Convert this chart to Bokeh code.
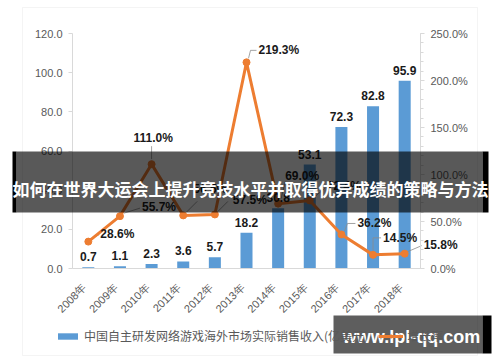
import math
from bokeh.plotting import figure
from bokeh.models import (ColumnDataSource, Range1d, LinearAxis, FixedTicker, PrintfTickFormatter,
                          CustomJSTickFormatter, Legend, LegendItem, BoxAnnotation, Label)
from bokeh.embed import file_html
from bokeh.resources import INLINE
from bokeh.core.properties import value

# ---------------- data ----------------
years = ["2008年", "2009年", "2010年", "2011年", "2012年", "2013年",
         "2014年", "2015年", "2016年", "2017年", "2018年"]
revenue = [0.7, 1.1, 2.3, 3.6, 5.7, 18.2, 30.8, 53.1, 72.3, 82.8, 95.9]
growth = [28.6, 55.7, 111.0, 56.5, 57.5, 219.3, 69.0, 72.4, 36.2, 14.5, 15.8]
left_ticks = [0, 20, 40, 60, 80, 100, 120]
right_ticks = [0, 50, 100, 150, 200, 250]
bar_name = "中国自主研发网络游戏海外市场实际销售收入(亿美元)"
line_name = "增长率"
banner_text = "如何在世界大运会上提升竞技水平并取得优异成绩的策略与方法"
watermark_text = "www.lpl-qq.com"

# ---------------- style / layout ----------------
BLUE = "#5B9BD5"
ORANGE = "#ED7D31"
AXIS = "#d9d9d9"
TICKTXT = "#595959"
W, H = 496, 360
FL, FR, FT, FB = 72, 420, 33, 268          # data area inside the canvas (px)
NX = len(years)
YMAX, PMAX = left_ticks[-1], right_ticks[-1]
px_x = (FR - FL) / NX
px_l = (FB - FT) / YMAX
px_p = (FB - FT) / PMAX

# growth label offsets (pixels, left-aligned text)
lab_dx = [12, 22, -18, 10, 18, 12, 7, 17, 16, 10, 19]
lab_dy = [-8, -9, -26, -26, -14, -12, -28, -14, -11, -17, -9]
leader_offsets = [
    [(3, -3), (11, -7)],
    [(4, -3), (20, -8)],
    [(0, -5), (0, -18)],
    [(3, -3), (14, -14)],
    [(3, -3), (13, -13)],
    [(2, -4), (4, -12), (10, -12)],
    [(3, -5), (7, -22)],
    [(4, -3), (15, -12)],
    [(3, -3), (6, -11), (14, -11)],
    [(0, -3), (0, -17), (8, -17)],
    [(3, -2), (17, -8)],
]
XLAB_SHIFT = -4  # px, nudges the rotated year labels

xc = [i + 0.5 for i in range(NX)]

p = figure(width=W, height=H,
           x_range=Range1d(-FL / px_x, NX + (W - FR) / px_x),
           y_range=Range1d(-(H - FB) / px_l, YMAX + FT / px_l),
           x_axis_type=None, y_axis_type=None, output_backend="svg", toolbar_location=None,
           min_border=0, min_border_left=0, min_border_right=0, min_border_top=0,
           min_border_bottom=0)
p.extra_y_ranges = {"pct": Range1d(-(H - FB) / px_p, PMAX + FT / px_p)}
p.outline_line_color = None
p.background_fill_color = "white"
p.border_fill_color = "white"

# axes (fixed in data space, bounded to the chart area)
yl = LinearAxis(ticker=FixedTicker(ticks=left_ticks), formatter=PrintfTickFormatter(format="%.1f"),
                fixed_location=0, bounds=(0, YMAX))
yr = LinearAxis(y_range_name="pct",
                ticker=FixedTicker(ticks=right_ticks, minor_ticks=list(range(0, PMAX + 1, 10))),
                formatter=PrintfTickFormatter(format="%.1f%%"), fixed_location=NX,
                bounds=(0, PMAX))
xb = LinearAxis(ticker=FixedTicker(ticks=[x + XLAB_SHIFT / px_x for x in xc]),
                fixed_location=0, bounds=(0, NX),
                formatter=CustomJSTickFormatter(args=dict(labels=years),
                                                code="return labels[Math.floor(tick)] || '';"))
for ax in (yl, yr, xb):
    ax.axis_line_color = AXIS
    ax.major_tick_line_color = AXIS
    ax.minor_tick_line_color = None
    ax.major_tick_in = 0
    ax.major_tick_out = 4
    ax.major_label_text_font = "Liberation Sans"
    ax.major_label_text_font_size = "11px"
    ax.major_label_text_color = TICKTXT
yl.major_label_standoff = 6
yr.minor_tick_line_color = AXIS
yr.minor_tick_out = 3
yr.minor_tick_in = 0
yr.major_label_standoff = 6
xb.major_tick_line_color = None
xb.major_tick_out = 0
xb.major_label_orientation = math.pi / 4
xb.major_label_standoff = 17
p.add_layout(yl, "left")
p.add_layout(yr, "right")
p.add_layout(xb, "below")

# bars
src = ColumnDataSource(dict(x=xc, rev=revenue, g=growth, year=years,
                            rev_txt=["%.1f" % v for v in revenue],
                            g_txt=["%.1f%%" % v for v in growth],
                            dx=lab_dx, dy=lab_dy))
bars = p.vbar(x="x", top="rev", width=0.38, source=src, color=BLUE, line_color=None)

# leader lines
lx = [[xc[i] + dx / px_x for dx, dy in segs] for i, segs in enumerate(leader_offsets)]
ly = [[growth[i] - dy / px_p for dx, dy in segs] for i, segs in enumerate(leader_offsets)]
p.multi_line(xs=lx, ys=ly, y_range_name="pct", line_color="#8c8c8c", line_width=0.8)

# growth line
gl = p.line(x="x", y="g", source=src, y_range_name="pct", line_color=ORANGE, line_width=3,
            line_join="round")
gc = p.scatter(x="x", y="g", source=src, y_range_name="pct", size=7, fill_color=ORANGE,
               line_color=ORANGE)

# labels
p.text(x="x", y="rev", text="rev_txt", source=src, text_align="center", text_baseline="bottom",
       y_offset=-6, text_font=value("Liberation Sans"), text_font_style="bold",
       text_font_size="12px", text_color="#1a1a1a")
p.text(x="x", y="g", text="g_txt", source=src, y_range_name="pct", text_align="left",
       text_baseline="middle", x_offset="dx", y_offset="dy", text_font=value("Liberation Sans"),
       text_font_style="bold", text_font_size="12px", text_color="#1a1a1a")

# legend
legend = Legend(items=[LegendItem(label=bar_name, renderers=[bars]),
                       LegendItem(label=line_name, renderers=[gl, gc])],
                location=(55, H - 344), orientation="horizontal")
legend.glyph_width = 25
legend.glyph_height = 8
legend.label_height = 14
legend.label_standoff = 4
legend.spacing = 10
legend.padding = 0
legend.margin = 0
legend.border_line_color = None
legend.background_fill_alpha = 0
legend.label_text_font = "Noto Sans CJK SC"
legend.label_text_font_size = "12px"
legend.label_text_color = TICKTXT
p.add_layout(legend)

def canvas_box(l, r, t, b, **kw):
    return BoxAnnotation(left=l, right=r, top=t, bottom=b, left_units="canvas",
                         right_units="canvas", top_units="canvas", bottom_units="canvas", **kw)

# outer chart border
p.add_layout(canvas_box(22, 477, 7, 355, fill_alpha=0, line_color=AXIS, line_width=1,
                        level="underlay"))

# banner overlay
p.add_layout(canvas_box(16, 482, 151, 212, fill_color="black", fill_alpha=0.65, line_color=None,
                        level="overlay"))
for l, r in ((12, 16), (482, 488)):
    p.add_layout(canvas_box(l, r, 151, 212, fill_color="black", fill_alpha=1.0, line_color=None,
                            level="overlay"))
p.add_layout(Label(x=250, y=188, x_units="canvas", y_units="canvas", text=banner_text,
                   text_align="center", text_baseline="middle", text_color="white",
                   text_font="Noto Sans CJK SC", text_font_style="bold", text_font_size="17px",
                   level="overlay"))

# watermark
p.add_layout(canvas_box(333, 482, 315, 353, fill_color="black", fill_alpha=0.63, line_color=None,
                        level="overlay"))
p.add_layout(canvas_box(482, 491, 315, 353, fill_color="black", fill_alpha=1.0, line_color=None,
                        level="overlay"))
p.add_layout(Label(x=411, y=336, x_units="canvas", y_units="canvas", text=watermark_text,
                   text_align="center", text_baseline="middle", text_color="white",
                   text_font="Liberation Sans", text_font_style="bold", text_font_size="18px",
                   level="overlay"))

open("out.html", "w").write(file_html(p, INLINE))
